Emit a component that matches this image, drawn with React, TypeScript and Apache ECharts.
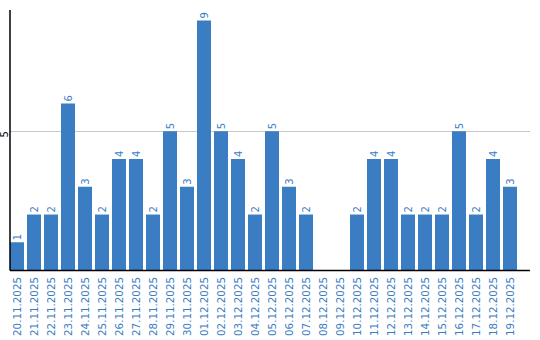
import React, { useEffect, useRef } from "react";
import * as echarts from "echarts";

const categories = [
  "20.11.2025", "21.11.2025", "22.11.2025", "23.11.2025", "24.11.2025",
  "25.11.2025", "26.11.2025", "27.11.2025", "28.11.2025", "29.11.2025",
  "30.11.2025", "01.12.2025", "02.12.2025", "03.12.2025", "04.12.2025",
  "05.12.2025", "06.12.2025", "07.12.2025", "08.12.2025", "09.12.2025",
  "10.12.2025", "11.12.2025", "12.12.2025", "13.12.2025", "14.12.2025",
  "15.12.2025", "16.12.2025", "17.12.2025", "18.12.2025", "19.12.2025",
];

const values: (number | null)[] = [
  1, 2, 2, 6, 3, 2, 4, 4, 2, 5,
  3, 9, 5, 4, 2, 5, 3, 2, null, null,
  2, 4, 4, 2, 2, 2, 5, 2, 4, 3,
];

const yTicks = [5];

const BLUE = "#3b7dc2";
const FONT = "DejaVu Sans";

export default function App() {
  const ref = useRef<HTMLDivElement>(null);

  useEffect(() => {
    if (!ref.current) return;
    const chart = echarts.init(ref.current, undefined, { renderer: "svg" });
    chart.setOption({
      animation: false,
      grid: { left: 8.5, right: 21.5, top: 10, bottom: 70, containLabel: false, outerBoundsMode: "none" },
      xAxis: {
        type: "category",
        data: categories,
        boundaryGap: true,
        axisLine: { show: false },
        axisTick: { show: false },
        axisLabel: {
          rotate: 90,
          interval: 0,
          color: BLUE,
          fontFamily: FONT,
          fontSize: 10.3,
          margin: 7,
        },
      },
      yAxis: {
        type: "value",
        min: 0,
        max: 9.375,
        interval: 5,
        axisLine: { show: false },
        axisTick: { show: false },
        splitLine: { show: false },
        axisLabel: {
          rotate: 90,
          align: "center",
          verticalAlign: "middle",
          lineHeight: 8,
          padding: [0, 6, 0, 0],
          color: "#000",
          fontFamily: FONT,
          fontSize: 10,
          margin: 4,
          showMaxLabel: false,
          formatter: (v: number) => (yTicks.includes(v) ? String(v) : ""),
        },
      },
      series: [
        {
          type: "bar",
          data: values,
          barWidth: 14,
          itemStyle: { color: BLUE },
          label: {
            show: true,
            position: "top",
            rotate: 90,
            align: "left",
            verticalAlign: "middle",
            distance: 2,
            color: BLUE,
            fontFamily: FONT,
            fontSize: 10,
            formatter: (p: any) => (p.value == null ? "" : String(p.value)),
          },
        },
      ],
    });

    const y0 = chart.convertToPixel({ yAxisIndex: 0 }, 0) as number;
    const lines = yTicks.map((t) => {
      const y = Math.round(chart.convertToPixel({ yAxisIndex: 0 }, t) as number) + 0.5;
      return {
        type: "line",
        z: 0,
        shape: { x1: 10, y1: y, x2: 530, y2: y },
        style: { stroke: "#c8c8c8", lineWidth: 1 },
      };
    });
    const yb = Math.round(y0) + 0.5;
    chart.setOption({
      graphic: [
        ...lines,
        {
          type: "line",
          z: 10,
          shape: { x1: 10, y1: yb, x2: 530, y2: yb },
          style: { stroke: "#000", lineWidth: 1.5 },
        },
        {
          type: "line",
          z: 10,
          shape: { x1: 10, y1: 10, x2: 10, y2: yb },
          style: { stroke: "#000", lineWidth: 1.5 },
        },
      ],
    });

    return () => chart.dispose();
  }, []);

  return (
    <div
      ref={ref}
      style={{ position: "fixed", left: 0, top: 0, width: 540, height: 340, background: "#fff" }}
    />
  );
}
